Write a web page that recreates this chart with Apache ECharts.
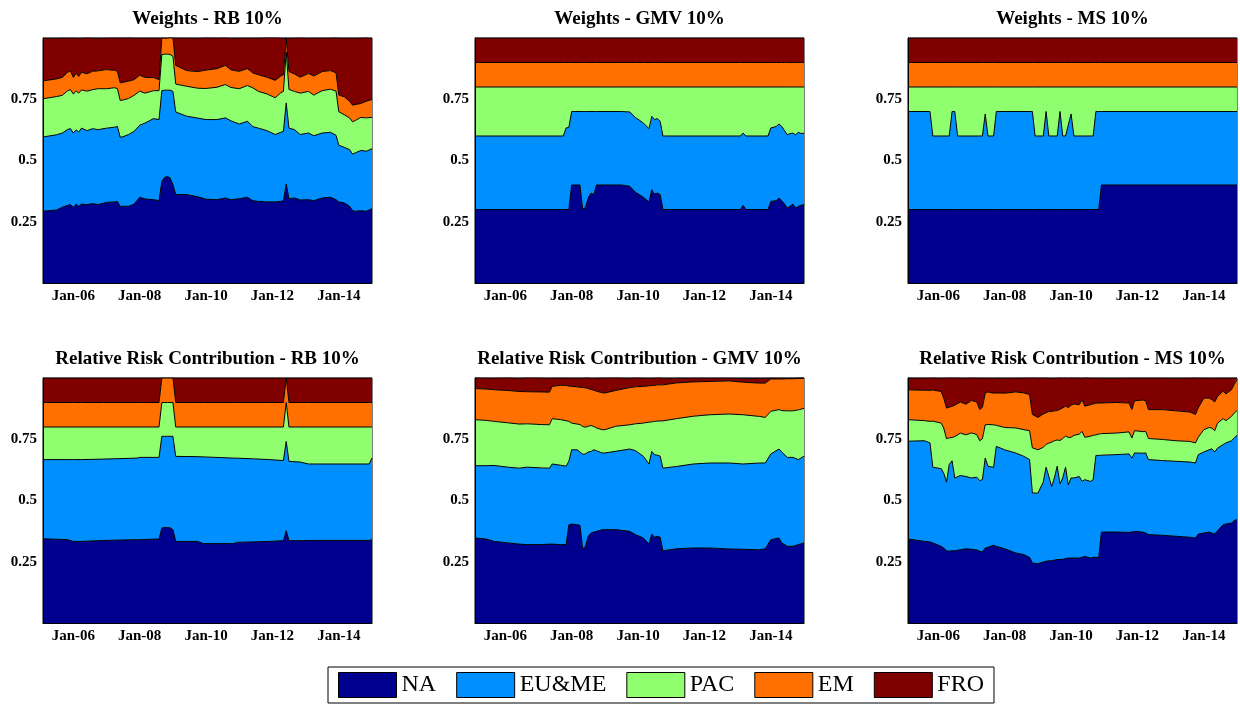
<!DOCTYPE html>
<html>
<head>
<meta charset="utf-8">
<title>Regional weights and risk contributions</title>
<script src="https://cdn.jsdelivr.net/npm/echarts@6/dist/echarts.min.js"></script>
<style>
  html, body { margin: 0; padding: 0; background: #ffffff; }
  #chart { width: 1240px; height: 704px; }
</style>
</head>
<body>
<div id="chart"></div>
<script>
// Regions, in stacking order from the bottom up
const regions = ['NA', 'EU&ME', 'PAC', 'EM', 'FRO'];
const regionColors = ['#00008F', '#008FFF', '#8FFF70', '#FF7000', '#800000'];

const titles = [
  'Weights - RB 10%', 'Weights - GMV 10%', 'Weights - MS 10%',
  'Relative Risk Contribution - RB 10%', 'Relative Risk Contribution - GMV 10%', 'Relative Risk Contribution - MS 10%'
];

const xTickLabels = ['Jan-06', 'Jan-08', 'Jan-10', 'Jan-12', 'Jan-14'];
const yTickLabels = ['0.25', '0.5', '0.75'];

// ---- Weights, risk budgeting ----
const rbWDates = ['2005-02','2005-07','2005-09','2005-11','2005-12','2006-01','2006-02','2006-03','2006-04','2006-06','2006-08','2006-10','2007-01','2007-04','2007-05','2007-06','2007-07','2007-09','2007-11','2008-01','2008-03','2008-06','2008-08','2008-09','2008-10','2008-11','2008-12','2009-01','2009-02','2009-06','2009-10','2010-01','2010-05','2010-08','2010-10','2011-01','2011-04','2011-06','2011-08','2011-11','2012-02','2012-04','2012-05','2012-06','2012-07','2012-09','2012-11','2013-02','2013-04','2013-07','2013-10','2013-12','2014-01','2014-03','2014-05','2014-06','2014-07','2014-09','2014-11','2015-01'];
const rbWNA  = [.293,.298,.309,.317,.320,.309,.322,.313,.322,.320,.324,.320,.329,.331,.333,.313,.313,.313,.322,.350,.343,.340,.336,.415,.431,.435,.429,.401,.361,.361,.352,.342,.340,.347,.340,.344,.350,.336,.333,.331,.331,.333,.336,.404,.344,.347,.339,.340,.336,.347,.350,.340,.331,.327,.313,.295,.293,.295,.293,.303];
const rbWEU  = [.303,.307,.303,.310,.310,.303,.303,.303,.310,.302,.306,.306,.303,.305,.306,.282,.284,.293,.297,.294,.310,.331,.331,.370,.356,.352,.358,.381,.337,.320,.321,.325,.327,.327,.322,.305,.310,.302,.299,.291,.275,.282,.283,.331,.288,.279,.267,.272,.265,.265,.265,.263,.231,.227,.231,.231,.238,.246,.245,.245];
const rbWPAC = [.156,.156,.154,.158,.159,.159,.159,.159,.156,.161,.159,.167,.161,.161,.154,.150,.150,.147,.147,.139,.122,.114,.118,.147,.147,.147,.146,.143,.114,.122,.122,.127,.132,.136,.136,.144,.146,.158,.150,.150,.150,.161,.163,.208,.158,.156,.169,.170,.166,.173,.176,.180,.137,.133,.129,.132,.132,.135,.136,.128];
const rbWEM  = [.073,.072,.073,.076,.075,.068,.072,.068,.072,.071,.075,.073,.078,.071,.071,.072,.072,.071,.064,.065,.064,.054,.045,.068,.065,.065,.068,.075,.076,.064,.068,.075,.076,.078,.072,.071,.069,.061,.068,.068,.071,.068,.068,.057,.073,.071,.065,.073,.078,.078,.076,.075,.068,.073,.068,.068,.065,.057,.068,.073];
const rbWFRO = [.174,.166,.161,.139,.136,.161,.143,.156,.139,.147,.136,.133,.129,.133,.136,.184,.181,.177,.170,.152,.161,.161,.170,0,0,0,0,0,.112,.133,.136,.132,.125,.113,.129,.136,.125,.143,.150,.161,.174,.156,.150,0,.136,.147,.161,.144,.155,.137,.133,.143,.233,.239,.259,.273,.272,.267,.259,.250];

// ---- Weights, global minimum variance ----
const gmvWDates = ['2005-02','2007-10','2007-11','2007-12','2008-01','2008-04','2008-05','2008-06','2008-07','2008-08','2008-09','2008-10','2009-07','2009-10','2009-12','2010-03','2010-05','2010-06','2010-07','2010-08','2010-09','2010-10','2013-02','2013-03','2013-04','2013-12','2014-01','2014-03','2014-04','2014-05','2014-06','2014-07','2014-08','2014-09','2014-10','2014-11','2014-12','2015-01'];
const gmvWNA  = [.30,.30,.30,.30,.40,.40,.30,.309,.347,.367,.361,.40,.40,.395,.371,.35,.331,.381,.363,.367,.361,.30,.30,.317,.30,.30,.333,.336,.347,.336,.322,.306,.313,.322,.306,.313,.317,.32];
const gmvWEU  = [.30,.30,.333,.335,.30,.30,.40,.391,.353,.333,.339,.30,.30,.303,.305,.303,.299,.299,.304,.304,.299,.30,.30,.295,.30,.30,.30,.303,.302,.303,.30,.299,.297,.29,.299,.302,.293,.292];
const gmvWPAC = [.20,.20,.167,.165,.10,.10,.10,.10,.10,.10,.10,.10,.10,.102,.124,.147,.170,.12,.133,.129,.14,.20,.20,.188,.20,.20,.167,.161,.151,.161,.178,.195,.19,.188,.195,.185,.19,.188];
const gmvWEM  = [.1,.1,.1,.1,.1,.1,.1,.1,.1,.1,.1,.1,.1,.1,.1,.1,.1,.1,.1,.1,.1,.1,.1,.1,.1,.1,.1,.1,.1,.1,.1,.1,.1,.1,.1,.1,.1,.1];
const gmvWFRO = [.1,.1,.1,.1,.1,.1,.1,.1,.1,.1,.1,.1,.1,.1,.1,.1,.1,.1,.1,.1,.1,.1,.1,.1,.1,.1,.1,.1,.1,.1,.1,.1,.1,.1,.1,.1,.1,.1];

// ---- Weights, maximum Sharpe ----
const msWDates = ['2005-02','2005-10','2005-11','2006-05','2006-06','2006-07','2006-08','2007-05','2007-06','2007-07','2007-09','2007-10','2008-11','2008-12','2009-03','2009-04','2009-05','2009-08','2009-09','2009-10','2009-11','2010-01','2010-02','2010-09','2010-10','2010-11','2010-12','2015-01'];
const msWNA  = [.3,.3,.3,.3,.3,.3,.3,.3,.3,.3,.3,.3,.3,.3,.3,.3,.3,.3,.3,.3,.3,.3,.3,.3,.3,.3,.4,.4];
const msWEU  = [.4,.4,.3,.3,.4,.4,.3,.3,.39,.3,.3,.4,.4,.3,.3,.4,.3,.3,.4,.3,.3,.39,.3,.3,.4,.4,.3,.3];
const msWPAC = [.1,.1,.2,.2,.1,.1,.2,.2,.11,.2,.2,.1,.1,.2,.2,.1,.2,.2,.1,.2,.2,.11,.2,.2,.1,.1,.1,.1];
const msWEM  = [.1,.1,.1,.1,.1,.1,.1,.1,.1,.1,.1,.1,.1,.1,.1,.1,.1,.1,.1,.1,.1,.1,.1,.1,.1,.1,.1,.1];
const msWFRO = [.1,.1,.1,.1,.1,.1,.1,.1,.1,.1,.1,.1,.1,.1,.1,.1,.1,.1,.1,.1,.1,.1,.1,.1,.1,.1,.1,.1];

// ---- Relative risk contribution, risk budgeting ----
const rbRDates = ['2005-02','2005-11','2006-01','2006-04','2006-12','2007-12','2008-01','2008-08','2008-09','2008-10','2008-11','2008-12','2009-01','2009-02','2009-10','2009-12','2010-11','2010-12','2011-12','2012-05','2012-06','2012-07','2012-11','2013-02','2014-12','2015-01'];
const rbRNA  = [.344,.340,.333,.333,.337,.340,.340,.343,.388,.39,.39,.388,.381,.333,.333,.324,.324,.329,.333,.336,.377,.336,.336,.337,.337,.34];
const rbREU  = [.323,.327,.334,.334,.332,.333,.336,.333,.374,.372,.372,.374,.381,.347,.346,.354,.349,.344,.334,.327,.364,.324,.321,.312,.312,.333];
const rbRPAC = [.133,.133,.133,.133,.131,.127,.124,.124,.138,.138,.138,.138,.138,.12,.121,.122,.127,.127,.133,.137,.159,.14,.143,.151,.151,.127];
const rbREM  = [.1,.1,.1,.1,.1,.1,.1,.1,.1,.1,.1,.1,.1,.1,.1,.1,.1,.1,.1,.1,.1,.1,.1,.1,.1,.1];
const rbRFRO = [.1,.1,.1,.1,.1,.1,.1,.1,0,0,0,0,0,.1,.1,.1,.1,.1,.1,.1,0,.1,.1,.1,.1,.1];

// ---- Relative risk contribution, global minimum variance ----
const gmvRDates = ['2005-02','2005-06','2005-09','2006-02','2006-06','2006-09','2007-02','2007-05','2007-06','2007-09','2007-11','2007-12','2008-01','2008-03','2008-04','2008-05','2008-06','2008-07','2008-08','2008-09','2008-10','2008-12','2009-01','2009-05','2009-10','2009-12','2010-03','2010-05','2010-06','2010-07','2010-08','2010-09','2010-10','2011-03','2011-09','2012-03','2012-10','2013-03','2013-09','2013-11','2014-01','2014-04','2014-05','2014-07','2014-09','2014-11','2015-01'];
const gmvRNA  = [.347,.343,.333,.327,.322,.320,.320,.322,.322,.320,.320,.401,.404,.401,.399,.303,.313,.354,.367,.371,.374,.381,.381,.381,.374,.361,.347,.322,.363,.350,.354,.350,.295,.303,.306,.306,.302,.301,.299,.303,.340,.347,.327,.313,.313,.320,.327];
const gmvREU  = [.295,.299,.310,.309,.310,.316,.313,.310,.327,.324,.320,.259,.303,.306,.299,.386,.377,.344,.333,.336,.329,.313,.313,.320,.336,.343,.333,.327,.337,.337,.331,.331,.337,.336,.343,.347,.351,.348,.354,.350,.350,.363,.371,.363,.363,.347,.354];
const gmvRPAC = [.188,.185,.180,.181,.180,.177,.177,.177,.185,.186,.186,.163,.109,.105,.112,.113,.109,.105,.106,.095,.093,.095,.095,.102,.099,.109,.136,.171,.121,.136,.139,.144,.193,.195,.195,.197,.200,.201,.190,.186,.174,.161,.169,.190,.190,.203,.195];
const gmvREM  = [.127,.128,.129,.132,.133,.131,.133,.133,.132,.140,.144,.144,.150,.152,.152,.159,.161,.154,.147,.148,.150,.151,.150,.146,.152,.151,.150,.148,.148,.147,.148,.147,.147,.146,.140,.136,.135,.133,.136,.140,.132,.125,.129,.131,.131,.128,.122];
const gmvRFRO = [.044,.045,.048,.052,.054,.057,.057,.057,.034,.030,.030,.033,.034,.035,.038,.038,.041,.044,.046,.049,.054,.060,.061,.052,.038,.037,.034,.031,.030,.030,.029,.029,.027,.020,.016,.014,.012,.016,.020,.020,.004,.004,.004,.003,.003,.003,.003];

// ---- Relative risk contribution, maximum Sharpe ----
const msRDates = ['2005-02','2005-08','2005-10','2005-11','2006-02','2006-03','2006-04','2006-05','2006-06','2006-07','2006-09','2006-11','2007-01','2007-03','2007-04','2007-05','2007-06','2007-07','2007-09','2007-10','2008-01','2008-05','2008-08','2008-10','2008-11','2009-01','2009-03','2009-04','2009-05','2009-06','2009-07','2009-08','2009-09','2009-10','2009-11','2009-12','2010-01','2010-02','2010-04','2010-05','2010-06','2010-08','2010-09','2010-10','2010-11','2010-12','2011-05','2011-10','2011-11','2011-12','2012-03','2012-04','2012-05','2012-10','2013-03','2013-08','2013-10','2013-11','2014-01','2014-03','2014-04','2014-05','2014-06','2014-08','2014-09','2014-11','2014-12','2015-01'];
const msRNA  = [.343,.333,.331,.327,.313,.306,.295,.293,.295,.295,.299,.303,.301,.298,.293,.290,.306,.309,.317,.313,.303,.286,.279,.268,.245,.242,.249,.252,.254,.254,.257,.259,.259,.260,.263,.265,.265,.265,.265,.268,.272,.265,.268,.268,.268,.371,.371,.370,.371,.374,.371,.367,.361,.358,.354,.350,.347,.363,.367,.371,.367,.363,.377,.401,.404,.408,.418,.422];
const msREU  = [.399,.411,.404,.309,.317,.306,.280,.354,.367,.297,.303,.295,.291,.297,.288,.295,.367,.331,.318,.408,.404,.408,.401,.399,.286,.288,.327,.384,.344,.303,.335,.381,.309,.332,.373,.299,.327,.327,.333,.310,.313,.313,.317,.416,.416,.314,.316,.320,.302,.320,.322,.327,.306,.305,.306,.307,.306,.324,.331,.336,.344,.335,.337,.327,.331,.336,.337,.344];
const msRPAC = [.088,.082,.088,.188,.186,.184,.177,.109,.095,.169,.173,.170,.184,.174,.163,.167,.136,.170,.174,.086,.091,.102,.109,.118,.184,.177,.141,.093,.136,.181,.152,.107,.177,.161,.127,.193,.166,.174,.173,.204,.173,.184,.181,.084,.087,.088,.088,.090,.082,.091,.088,.088,.086,.086,.084,.084,.082,.071,.091,.091,.084,.087,.102,.106,.091,.099,.102,.101];
const msREM  = [.122,.124,.127,.127,.129,.122,.125,.125,.127,.128,.127,.125,.132,.133,.127,.128,.129,.133,.129,.132,.140,.147,.150,.147,.136,.132,.136,.129,.129,.125,.122,.120,.127,.125,.122,.122,.131,.128,.120,.129,.127,.129,.128,.129,.127,.125,.125,.118,.116,.122,.129,.125,.118,.122,.122,.120,.116,.120,.129,.120,.116,.117,.109,.112,.109,.109,.116,.127];
const msRFRO = [.048,.050,.050,.050,.054,.082,.122,.120,.116,.112,.098,.106,.093,.098,.129,.120,.061,.057,.061,.061,.061,.057,.061,.068,.150,.161,.147,.143,.136,.136,.133,.133,.129,.122,.116,.120,.112,.106,.109,.088,.116,.109,.106,.102,.102,.101,.099,.102,.129,.093,.090,.093,.129,.129,.133,.139,.150,.122,.082,.082,.088,.098,.075,.054,.065,.048,.027,.007];

const panels = [
  { title: titles[0], dates: rbWDates,  values: [rbWNA,  rbWEU,  rbWPAC,  rbWEM,  rbWFRO] },
  { title: titles[1], dates: gmvWDates, values: [gmvWNA, gmvWEU, gmvWPAC, gmvWEM, gmvWFRO] },
  { title: titles[2], dates: msWDates,  values: [msWNA,  msWEU,  msWPAC,  msWEM,  msWFRO] },
  { title: titles[3], dates: rbRDates,  values: [rbRNA,  rbREU,  rbRPAC,  rbREM,  rbRFRO] },
  { title: titles[4], dates: gmvRDates, values: [gmvRNA, gmvREU, gmvRPAC, gmvREM, gmvRFRO] },
  { title: titles[5], dates: msRDates,  values: [msRNA,  msREU,  msRPAC,  msREM,  msRFRO] }
];

// ---- layout and styling ----
const FONT = '"Liberation Serif", "Times New Roman", serif';
const colLeft = [43, 475, 908];
const rowTop = [38, 378];
const plotW = 329;
const plotH = 245;
const ONE_YEAR = 365 * 24 * 3600 * 1000;

// Label a yearly tick as 'Jan-YY' when that label is one of the tick labels
function yearTickLabel(v) {
  const d = new Date(v);
  if (d.getMonth() !== 0 || d.getDate() !== 1) return '';
  const label = 'Jan-' + String(d.getFullYear()).slice(2);
  return xTickLabels.indexOf(label) >= 0 ? label : '';
}

const grids = [], xAxes = [], yAxes = [], series = [], titleList = [];

panels.forEach(function (p, i) {
  const left = colLeft[i % 3];
  const top = rowTop[Math.floor(i / 3)];

  grids.push({
    left: left, top: top, width: plotW, height: plotH,
    show: true, borderColor: '#000', borderWidth: 1, backgroundColor: 'transparent',
    containLabel: false, outerBoundsMode: 'none'
  });

  titleList.push({
    text: p.title, left: left + plotW / 2, top: top - 28, textAlign: 'center', padding: 0,
    textStyle: { fontFamily: FONT, fontWeight: 'bold', fontSize: 19, color: '#000' }
  });

  xAxes.push({
    type: 'time', gridIndex: i, min: 'dataMin', max: 'dataMax', z: 20,
    splitNumber: 10, minInterval: ONE_YEAR, maxInterval: ONE_YEAR,
    splitLine: { show: false },
    axisTick: { show: false },
    axisLine: { show: true, onZero: false, lineStyle: { color: '#000', width: 1 } },
    axisLabel: {
      formatter: function (v) { return yearTickLabel(v); },
      hideOverlap: false,
      showMinLabel: false, showMaxLabel: false,
      fontFamily: FONT, fontWeight: 'bold', fontSize: 15, color: '#000', margin: 6
    }
  });

  yAxes.push({
    type: 'value', gridIndex: i, min: 0, max: 1, interval: 0.25, z: 20,
    splitLine: { show: false },
    axisTick: { show: false },
    axisLine: { show: true, lineStyle: { color: '#000', width: 1 } },
    axisLabel: {
      formatter: function (v) {
        const s = String(v);
        return yTickLabels.indexOf(s) >= 0 ? s : '';
      },
      fontFamily: FONT, fontWeight: 'bold', fontSize: 15, color: '#000', margin: 6
    }
  });

  regions.forEach(function (name, j) {
    series.push({
      type: 'line',
      name: name,
      xAxisIndex: i,
      yAxisIndex: i,
      stack: 'panel' + i,
      data: p.dates.map(function (d, k) { return [d, p.values[j][k]]; }),
      symbol: 'none',
      showSymbol: false,
      z: 10 - j,
      lineStyle: { color: '#000', width: 1 },
      itemStyle: { color: regionColors[j] },
      areaStyle: { color: regionColors[j], opacity: 1 },
      emphasis: { disabled: true },
      silent: true
    });
  });
});

const chart = echarts.init(document.getElementById('chart'), null, { renderer: 'canvas', width: 1240, height: 704 });
chart.setOption({
  backgroundColor: '#ffffff',
  animation: false,
  title: titleList,
  grid: grids,
  xAxis: xAxes,
  yAxis: yAxes,
  legend: {
    data: regions,
    left: 328, top: 667,
    orient: 'horizontal',
    icon: 'rect',
    itemWidth: 58, itemHeight: 25, itemGap: 20,
    padding: [5, 10, 5, 10],
    borderColor: '#000', borderWidth: 1, borderRadius: 0,
    backgroundColor: '#ffffff',
    selectedMode: false,
    itemStyle: { borderColor: '#000', borderWidth: 1 },
    textStyle: { fontFamily: FONT, fontSize: 24, color: '#000' }
  },
  series: series
});
</script>
</body>
</html>
